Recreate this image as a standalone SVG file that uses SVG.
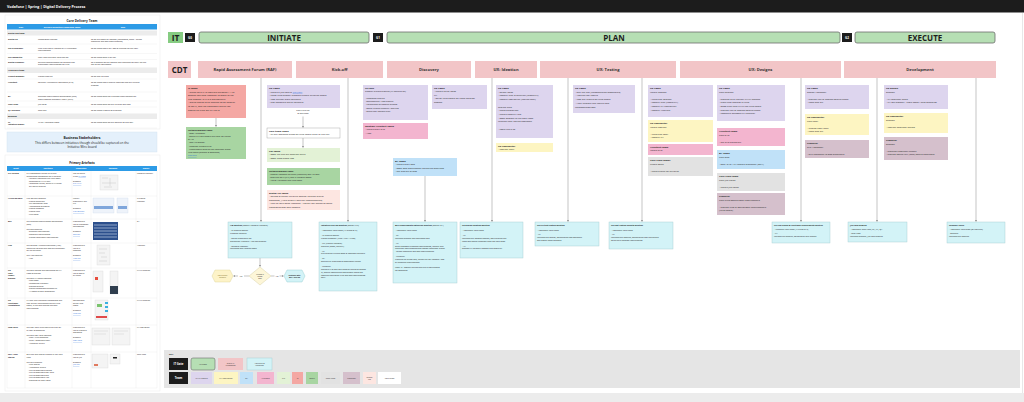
<svg xmlns="http://www.w3.org/2000/svg" width="1024" height="402" viewBox="0 0 1024 402">
<style>
text{font-family:"Open Sans","Liberation Sans",Arial,sans-serif;fill:#222}
.b{font-weight:700}
.tk{font-size:2.4px}
.mt{font-size:2px}
.tb{font-size:1.9px}
.th{font-size:2px;font-weight:700;fill:#fff;text-anchor:middle}
.ph{font-size:8px;font-weight:700;text-anchor:middle;fill:#1d1d1d}
.ms{font-size:4.1px;font-weight:700;text-anchor:middle;fill:#333}
.gt{font-size:2.8px;font-weight:700;fill:#fff;text-anchor:middle}
.kt{font-size:2px;text-anchor:middle;fill:#333}
.lk{fill:#2a6fdb;text-decoration:underline}
.lav{fill:#ddd5ee}.sal{fill:#f4a7a3}.grn{fill:#a8d5a2}.lg{fill:#e3f2d6}.dpo{fill:#fde6e1}
.arc{fill:#f3b5cf}.ba{fill:#c0e1f8}.yel{fill:#fdf5c2}.tl{fill:#e2e2e2}.pro{fill:#d5c0cc}
.mtg{fill:#d3f3f7;stroke:#9fc9cc;stroke-width:0.4}
.mil{fill:#f2c5c7}
.phs{fill:#b6dfb4;stroke:#6d6d6d;stroke-width:0.8}
.gate{fill:#1c1c1c}
.ln{stroke:#8a8a8a;stroke-width:0.5;fill:none}
.rl{stroke:#e3e3e3;stroke-width:0.3}
.thumb{fill:#f4f4f4;stroke:#cfcfcf;stroke-width:0.3}
</style>
<defs>
<marker id="ah" viewBox="0 0 6 6" refX="5.5" refY="3" markerWidth="4" markerHeight="4" orient="auto"><path d="M0,0 L6,3 L0,6 z" fill="#777"/></marker>
</defs>
<rect width="1024" height="402" fill="#ffffff"/>
<rect x="0" y="393" width="1024" height="9" fill="#ececec"/>
<line x1="1022.5" y1="13" x2="1022.5" y2="393" stroke="#d8d8d8" stroke-width="0.6"/>
<g id="header"><rect x="0" y="0" width="1024" height="12.5" fill="#1c1c1c"/><text x="7" y="8.4" style="font-size:3.6px;font-weight:700;fill:#fff">Vodafone | Spring | Digital Delivery Process</text></g>

<!-- LEFT PANEL: Core Delivery Team -->
<g id="core-delivery-team">
<rect x="5" y="15" width="155" height="114" fill="#fff" stroke="#e6e6e6" stroke-width="0.4"/>
<text x="82" y="22" class="b" style="font-size:3.2px;text-anchor:middle">Core Delivery Team</text>
<rect x="7" y="24" width="150" height="5.5" fill="#2d9be6"/>
<text x="21" y="27.5" class="th">Role</text><text x="62" y="27.5" class="th">Delivery Definition Leadership Tasks</text><text x="123" y="27.5" class="th">Why</text>
<rect x="7" y="30.5" width="150" height="5" fill="#ececec"/><text x="8" y="34" class="mt b">Digital Pod team</text>
<rect x="7" y="67.5" width="150" height="5.5" fill="#ececec"/><text x="8" y="71.3" class="mt b">IT Delivery team</text>
<rect x="7" y="113.5" width="150" height="5.5" fill="#ececec"/><text x="8" y="117.3" class="mt b">Business</text>
<g class="rl"><line x1="7" y1="44" x2="157" y2="44"/><line x1="7" y1="53.5" x2="157" y2="53.5"/><line x1="7" y1="59.5" x2="157" y2="59.5"/><line x1="7" y1="79" x2="157" y2="79"/><line x1="7" y1="92" x2="157" y2="92"/><line x1="7" y1="101" x2="157" y2="101"/><line x1="7" y1="107" x2="157" y2="107"/><line x1="7" y1="128" x2="157" y2="128"/></g>
<text class="mt"><tspan x="8" y="39.5" class="b">Digital PO</tspan><tspan x="8" y="48.5" class="b">UX/UI Designer</tspan><tspan x="8" y="57.5" class="b">UX Copywriter</tspan><tspan x="8" y="62.5" class="b">Digital Producer</tspan><tspan x="8" y="77" class="b">Project Manager</tspan><tspan x="8" y="83" class="b">Architect</tspan><tspan x="8" y="97" class="b">BA</tspan><tspan x="8" y="105" class="b">Tech Lead</tspan><tspan x="8" y="110.5" class="b">QA Engineer</tspan><tspan x="8" y="122.5" class="b">VF</tspan><tspan x="8" y="125" class="b">Initiative Owner</tspan></text>
<text class="mt"><tspan x="38" y="39.5">Commission request</tspan><tspan x="38" y="48.5">Final high fidelity designs of UX functional</tspan><tspan x="38" y="51">requirements</tspan><tspan x="38" y="57.5">Copy deck and final legal sign off</tspan><tspan x="38" y="62.5">Building configurations for solution and</tspan><tspan x="38" y="65">production requirements for CMS</tspan><tspan x="38" y="77">Project timeline</tspan><tspan x="38" y="83">Solution Architecture Document (SAD)</tspan><tspan x="38" y="97">Business Requirement Specification (BRS)</tspan><tspan x="38" y="99.5">Requirements Traceable Matrix (RTM)</tspan><tspan x="38" y="105">Jira cards</tspan><tspan x="38" y="110.5">Test Plan</tspan><tspan x="38" y="122.5">MARS / Business Cases</tspan></text>
<text class="mt"><tspan x="91" y="39.5">So we are aware of impacts (investment, tasks – Bridge</tspan><tspan x="91" y="42">Reporting and Ops Requirements)</tspan><tspan x="91" y="48.5">So we know how it will look &amp; function for the user</tspan><tspan x="91" y="57.5">So we know what it will say</tspan><tspan x="91" y="62.5">So it appears on the website and functions correctly for the</tspan><tspan x="91" y="65">day to day operations</tspan><tspan x="91" y="77">So we stay on track</tspan><tspan x="91" y="83">So we know how it should integrate into our current</tspan><tspan x="91" y="85.5">systems</tspan><tspan x="91" y="97">So we know what the business requirements are</tspan><tspan x="91" y="105">So we know what we are building and how</tspan><tspan x="91" y="110.5">So we know it works as expected</tspan><tspan x="91" y="122.5">So we know what we are working on and why</tspan></text>
</g>

<g id="business-stakeholders">
<rect x="7" y="132" width="150" height="20" fill="#e4f0fb" stroke="#cfe0f0" stroke-width="0.4"/>
<text x="82" y="138.5" class="b" style="font-size:3.3px;text-anchor:middle">Business Stakeholders</text>
<text x="82" y="143.6" style="font-size:3.1px;text-anchor:middle">This differs between initiatives though should be captured on the</text>
<text x="82" y="148.3" style="font-size:3.1px;text-anchor:middle">Initiative Miro board</text>
</g>

<!-- Primary Artefacts -->
<g id="primary-artefacts">
<rect x="5" y="155" width="155" height="236" fill="#fff" stroke="#e6e6e6" stroke-width="0.4"/>
<text x="82" y="163.5" class="b" style="font-size:2.9px;text-anchor:middle">Primary Artefacts</text>
<rect x="7" y="166" width="150" height="5" fill="#2d9be6"/>
<text x="16" y="169.2" class="th">What</text><text x="48" y="169.2" class="th">Contains</text><text x="81" y="169.2" class="th">Templates</text><text x="113" y="169.2" class="th">Example</text><text x="146" y="169.2" class="th">Owner</text>
<g class="rl"><line x1="7" y1="196" x2="157" y2="196"/><line x1="7" y1="219" x2="157" y2="219"/><line x1="7" y1="243" x2="157" y2="243"/><line x1="7" y1="268" x2="157" y2="268"/><line x1="7" y1="298" x2="157" y2="298"/><line x1="7" y1="325" x2="157" y2="325"/><line x1="7" y1="352" x2="157" y2="352"/><line x1="7" y1="388" x2="157" y2="388"/><line x1="25" y1="171" x2="25" y2="388"/><line x1="72" y1="171" x2="72" y2="388"/><line x1="91" y1="171" x2="91" y2="388"/><line x1="136" y1="171" x2="136" y2="388"/><line x1="7" y1="171" x2="7" y2="388"/><line x1="157" y1="171" x2="157" y2="388"/></g>
<text class="tb b"><tspan x="8" y="174">RAF Review</tspan><tspan x="8" y="199">IT Kick-off pack</tspan><tspan x="8" y="222">BRS</tspan><tspan x="8" y="246">HSD</tspan><tspan x="8" y="271">UX</tspan><tspan x="8" y="273.6">Page</tspan><tspan x="8" y="276.2">Flows /</tspan><tspan x="8" y="278.8">Designs</tspan><tspan x="8" y="301">UX</tspan><tspan x="8" y="303.6">Functional</tspan><tspan x="8" y="306.2">Annotations</tspan><tspan x="8" y="328">Copy Deck</tspan><tspan x="8" y="355">Epic / User</tspan><tspan x="8" y="357.6">Stories</tspan></text>
<text class="tb">
<tspan x="26.5" y="174">RAF assessment review is a Digital</tspan><tspan x="26.5" dy="2.6">engagement assessment for a initiative.</tspan><tspan x="28" dy="2.6">- Initiative requested high level effort</tspan><tspan x="29" dy="2.6">estimation or UX/UI only</tspan><tspan x="28" dy="2.6">- Innovation review, where RAF review</tspan><tspan x="29" dy="2.6">will not be enabled</tspan>
<tspan x="26.5" y="199">Kick-off pack contains:</tspan><tspan x="28" dy="2.6">- Project objectives</tspan><tspan x="28" dy="2.6">- Key stakeholder map</tspan><tspan x="28" dy="2.6">- Assumptions &amp; scoping</tspan><tspan x="28" dy="2.6">- Project roadmap</tspan><tspan x="28" dy="2.6">- Project risks</tspan><tspan x="28" dy="2.6">- Next steps</tspan>
<tspan x="26.5" y="222">The Business Requirements Specification</tspan><tspan x="26.5" dy="2.6">(BRS)</tspan><tspan x="26.5" dy="5.2">The BRS captures:</tspan><tspan x="28" dy="2.6">- Business requirements</tspan><tspan x="28" dy="2.6">- Reporting requirements</tspan><tspan x="28" dy="2.6">- System integration requirements</tspan>
<tspan x="26.5" y="246">The Solution Architect Document (HSD)</tspan><tspan x="26.5" dy="2.6">details the solution and how the technology</tspan><tspan x="26.5" dy="2.6">will be delivered.</tspan><tspan x="26.5" dy="5.2">The HSD captures:</tspan><tspan x="28" dy="2.6">- HSD</tspan>
<tspan x="26.5" y="271">The final designs and documents for UX</tspan><tspan x="26.5" dy="2.6">Flows &amp; Designs</tspan><tspan x="26.5" dy="5.2">The final UX design contains:</tspan><tspan x="28" dy="2.6">- Page flows</tspan><tspan x="28" dy="2.6">- Component inventory</tspan><tspan x="28" dy="2.6">- Designs/screens</tspan><tspan x="28" dy="2.6">- Design annotations/accessibility</tspan><tspan x="28" dy="2.6">- All states of each component</tspan>
<tspan x="26.5" y="301">UX high level functional annotations and</tspan><tspan x="26.5" dy="2.6">user journey documented on the Miro</tspan><tspan x="26.5" dy="2.6">board, in line with designs and BRS</tspan><tspan x="26.5" dy="2.6">requirements</tspan>
<tspan x="26.5" y="328">The copy deck is the source of truth for</tspan><tspan x="26.5" dy="2.6">all copy &amp; messaging</tspan><tspan x="26.5" dy="5.2">The final copy deck contains:</tspan><tspan x="28" dy="2.6">- Page / CMS messages</tspan><tspan x="28" dy="2.6">- Legal / compliance copy</tspan><tspan x="28" dy="2.6">- Accessible alt text</tspan>
<tspan x="26.5" y="355">Epic and user stories created by the Tech</tspan><tspan x="26.5" dy="2.6">Lead</tspan><tspan x="26.5" dy="5.2">The epic contains:</tspan><tspan x="28" dy="2.6">- User Stories</tspan><tspan x="28" dy="2.6">- Acceptance criteria</tspan><tspan x="28" dy="2.6">- Link to associated designs</tspan><tspan x="28" dy="2.6">- Link to associated copy deck</tspan><tspan x="28" dy="2.6">- Link to associated BRS</tspan><tspan x="28" dy="2.6">- Link to associated HSD</tspan><tspan x="28" dy="2.6">- Definition of ready/done</tspan>
</text>
<text class="tb">
<tspan x="73" y="174">Can be found</tspan><tspan x="73" dy="2.6">in the </tspan><tspan class="lk">RAF tool</tspan><tspan x="73" dy="5.2">Example:</tspan><tspan x="73" dy="2.6" class="lk">RAF-XXXX</tspan>
<tspan x="73" y="199">Usually</tspan><tspan x="73" dy="2.6">provided by the</tspan><tspan x="73" dy="2.6">PM</tspan><tspan x="73" dy="5.2">Example:</tspan><tspan x="73" dy="2.6" class="lk">Kick-off pack</tspan>
<tspan x="73" y="222">Provided as a</tspan><tspan x="73" dy="2.6">link to a template</tspan><tspan x="73" dy="2.6">spreadsheet</tspan><tspan x="73" dy="5.2">Example:</tspan><tspan x="73" dy="2.6" class="lk">BRS link</tspan>
<tspan x="73" y="246">Provided as a</tspan><tspan x="73" dy="2.6">link to a</tspan><tspan x="73" dy="2.6">template</tspan><tspan x="73" dy="5.2">Example:</tspan><tspan x="73" dy="2.6" class="lk">HSD link</tspan>
<tspan x="73" y="271">Provided as a</tspan><tspan x="73" dy="2.6">link to Zeplin</tspan><tspan x="73" dy="2.6">or Figma</tspan>
<tspan x="73" y="301">Documented</tspan><tspan x="73" dy="2.6">on the Miro</tspan><tspan x="73" dy="2.6">board</tspan><tspan x="73" dy="5.2">Example:</tspan><tspan x="73" dy="2.6" class="lk">Miro link</tspan>
<tspan x="73" y="328">Provided as a</tspan><tspan x="73" dy="2.6">link to a shared</tspan><tspan x="73" dy="2.6">document</tspan><tspan x="73" dy="5.2">Example:</tspan><tspan x="73" dy="2.6" class="lk">Copy deck</tspan>
<tspan x="73" y="355">Provided as a</tspan><tspan x="73" dy="2.6">link to Jira</tspan><tspan x="73" dy="5.2">Example:</tspan><tspan x="73" dy="2.6" class="lk">Jira link</tspan>
</text>
<text class="tb"><tspan x="137" y="174">Portfolio Manager</tspan><tspan x="137" y="199">IT Project</tspan><tspan x="137" dy="2.6">Manager</tspan><tspan x="137" y="222">BA</tspan><tspan x="137" y="246">Architect</tspan><tspan x="137" y="271">UX/UI Designer</tspan><tspan x="137" y="301">UX/UI Designer</tspan><tspan x="137" y="328">UX Copywriter</tspan><tspan x="137" y="355">Tech Lead</tspan></text>
<!-- example thumbnails -->
<g>
<rect class="thumb" x="100" y="175" width="18" height="15"/><path d="M102,178h6M110,178v8M102,183h14M104,187h8" stroke="#aaa" stroke-width="0.3" fill="none"/>
<rect x="93" y="198" width="21" height="15" fill="#eef3fa" stroke="#c9d6e8" stroke-width="0.3"/><rect x="94" y="206" width="19" height="3" fill="#7fa6db"/><rect x="117" y="198" width="11" height="15" fill="#eef3fa" stroke="#c9d6e8" stroke-width="0.3"/><rect x="118" y="206" width="9" height="3" fill="#7fa6db"/>
<rect x="93" y="222" width="25" height="18" fill="#2c4f8c"/><path d="M94,225h23M94,228h23M94,231h23M94,234h23M94,237h23" stroke="#d7e2f3" stroke-width="0.6"/>
<rect class="thumb" x="97" y="245" width="13" height="20"/><path d="M99,249h8M99,253h6M101,257h6M99,261h8" stroke="#aaa" stroke-width="0.3"/>
<rect class="thumb" x="93" y="271" width="10" height="21"/><rect x="95" y="277" width="3" height="3" fill="#e74c3c"/><rect x="110" y="271" width="8" height="23" fill="#f4f4f4" stroke="#cfcfcf" stroke-width="0.3"/><rect x="110" y="286" width="8" height="8" fill="#2f3e4e"/>
<rect class="thumb" x="95" y="300" width="13" height="20"/><rect x="105" y="302" width="3" height="2" fill="#3ab0e0"/><rect x="105" y="306" width="3" height="2" fill="#3ab0e0"/><rect x="105" y="310" width="3" height="2" fill="#3ab0e0"/><rect x="96" y="316" width="11" height="2" fill="#e04b4b"/><rect x="97" y="304" width="5" height="3" fill="#7bc46e"/>
<rect class="thumb" x="92" y="328" width="18" height="17"/><rect class="thumb" x="112" y="328" width="18" height="17"/><path d="M94,331h14M94,334h12M114,331h14M114,334h10" stroke="#bbb" stroke-width="0.3"/>
<rect class="thumb" x="92" y="354" width="16" height="14"/><rect class="thumb" x="110" y="354" width="10" height="10"/><rect x="113" y="357" width="4" height="1.5" fill="#222"/><rect x="94" y="364" width="4" height="2" fill="#e07a5f"/>
</g>
</g>

<!-- Phase row -->
<g id="it-team"><rect x="168" y="32" width="15" height="11" fill="#86cc82"/><text x="175.5" y="40.5" class="ph" style="font-size:8.5px">IT</text></g>
<g id="gate-g0"><rect class="gate" x="185" y="33" width="10" height="9"/><text x="190" y="38.8" class="gt" style="font-size:3px">G0</text></g>
<g id="phase-initiate"><rect class="phs" x="199" y="32" width="170" height="11" rx="2"/><text x="284" y="40.6" class="ph">INITIATE</text></g>
<g id="gate-g1"><rect class="gate" x="373" y="33" width="10" height="9"/><text x="378" y="38.8" class="gt" style="font-size:3px">G1</text></g>
<g id="phase-plan"><rect class="phs" x="387" y="32" width="453" height="11" rx="2"/><text x="614" y="40.6" class="ph">PLAN</text></g>
<g id="gate-g2"><rect class="gate" x="842" y="33" width="10" height="9"/><text x="847" y="38.8" class="gt" style="font-size:3px">G2</text></g>
<g id="phase-execute"><rect class="phs" x="855" y="32" width="140" height="11" rx="2"/><text x="925" y="40.6" class="ph">EXECUTE</text></g>

<!-- Milestones -->
<g id="cdt-team"><rect class="mil" x="168" y="61" width="23" height="17"/><text x="179.5" y="72.5" class="ph">CDT</text></g>
<g id="ms-raf"><rect class="mil" x="198" y="61" width="94" height="17"/><text x="245" y="71" class="ms">Rapid Assessment Forum (RAF)</text></g>
<g id="ms-kickoff"><rect class="mil" x="296" y="61" width="87" height="17"/><text x="339.5" y="71" class="ms">Kick-off</text></g>
<g id="ms-discovery"><rect class="mil" x="387" y="61" width="84" height="17"/><text x="429" y="71" class="ms">Discovery</text></g>
<g id="ms-ideation"><rect class="mil" x="475" y="61" width="62" height="17"/><text x="506" y="71" class="ms">UX: Ideation</text></g>
<g id="ms-testing"><rect class="mil" x="540" y="61" width="136" height="17"/><text x="608" y="71" class="ms">UX: Testing</text></g>
<g id="ms-designs"><rect class="mil" x="680" y="61" width="161" height="17"/><text x="760.5" y="71" class="ms">UX: Designs</text></g>
<g id="ms-development"><rect class="mil" x="844" y="61" width="152" height="17"/><text x="920" y="71" class="ms">Development</text></g>

<!-- Connectors -->
<g id="connectors" class="ln">
<line x1="261" y1="78" x2="261" y2="221.5" marker-end="url(#ah)"/>
<line x1="348" y1="78" x2="348" y2="221.5" marker-end="url(#ah)"/>
<line x1="425" y1="176" x2="425" y2="221.5" marker-end="url(#ah)"/>
<line x1="492" y1="78" x2="492" y2="221.5" marker-end="url(#ah)"/>
<line x1="568" y1="78" x2="568" y2="221.5" marker-end="url(#ah)"/>
<line x1="642" y1="78" x2="642" y2="221.5" marker-end="url(#ah)"/>
<line x1="801" y1="78" x2="801" y2="221.5" marker-end="url(#ah)"/>
<line x1="877" y1="78" x2="877" y2="221.5" marker-end="url(#ah)"/>
<line x1="976" y1="78" x2="976" y2="221.5" marker-end="url(#ah)"/>
<line x1="216" y1="118" x2="216" y2="126.5" marker-end="url(#ah)"/>
<line x1="303" y1="116.5" x2="303" y2="127.5" marker-end="url(#ah)"/>
<line x1="303" y1="138" x2="303" y2="147.5" marker-end="url(#ah)"/>
<line x1="260" y1="258" x2="260" y2="266.5" marker-end="url(#ah)"/>
<line x1="249" y1="276" x2="233.5" y2="276" marker-end="url(#ah)"/>
<line x1="271" y1="276" x2="283.5" y2="276" marker-end="url(#ah)"/>
</g>
<text x="303" y="111" style="font-size:1.9px;text-anchor:middle">Share Miro link</text>
<text x="303" y="113.5" style="font-size:1.9px;text-anchor:middle">to core team</text>
<g><rect x="238" y="274.8" width="6" height="2.4" fill="#fff"/><text x="241" y="276.7" style="font-size:1.8px;text-anchor:middle">No</text><rect x="274.5" y="274.8" width="5" height="2.4" fill="#fff"/><text x="277" y="276.7" style="font-size:1.8px;text-anchor:middle">Yes</text></g>

<!-- RAF column -->
<g id="raf-is-tasks"><rect class="sal" x="186" y="85" width="60" height="33"/><text class="tk"><tspan x="188" y="89" class="b">IS Tasks</tspan><tspan x="188" dy="3.6">- Giving an RAF is required between 1-1 of</tspan><tspan x="188" dy="3.6">Engage Portfolio Manager to move to the</tspan><tspan x="188" dy="3.6">first session. RAF is a prerequisite.</tspan><tspan x="188" dy="3.6">- Digital needs to be marked as an enabler</tspan><tspan x="188" dy="3.6">to BRAF, and the Consumer Digital tab</tspan><tspan x="188" dy="3.6">should be filled out by the IS</tspan></text></g>
<g id="raf-portfolio-tasks"><rect class="grn" x="186" y="127" width="60" height="32"/><text class="mt"><tspan x="188" y="130.5" class="b">Portfolio Manager Tasks</tspan><tspan x="188" dy="3.2">- Book IAB session</tspan><tspan x="188" dy="3.2">- Ensure RAF and context are ready for review</tspan><tspan x="188" dy="3.2">at IAB</tspan><tspan x="188" dy="3.2">- Post IAB session:</tspan><tspan x="188" dy="3.2">- Complete initiative brief</tspan><tspan x="188" dy="3.2">- Create/assign cards on the Consumer Digital</tspan><tspan x="188" dy="3.2">Miro board (meeting &amp; attendees)</tspan><tspan x="188" dy="3.2" class="lk">Link here</tspan></text></g>
<g id="iab-meeting"><rect class="mtg" x="228" y="222" width="64" height="36"/><text class="mt"><tspan x="230" y="226" class="b">IAB Meeting</tspan><tspan> (Owner: Portfolio Manager)</tspan><tspan x="230" dy="5">- IS Initiative Owner</tspan><tspan x="230" dy="2.8">Presents initiative</tspan><tspan x="230" dy="5">- Digital Leadership rep</tspan><tspan x="230" dy="2.8">Decides on 'Proceed' / 'Do not proceed'</tspan><tspan x="230" dy="5">- Portfolio Manager</tspan><tspan x="230" dy="2.8">Facilitates and records notes</tspan></text></g>
<g id="decision"><polygon points="260,267 271,276 260,285 249,276" fill="#fdf6d8" stroke="#cfc79a" stroke-width="0.4"/><text style="font-size:1.7px;text-anchor:middle"><tspan x="260" y="274.5">Is there a</tspan><tspan x="260" dy="2.2">Digital</tspan><tspan x="260" dy="2.2">ask?</tspan></text></g>
<g id="outcome-no"><polygon points="215,270 230,270 233,276 230,282 215,282 212,276" fill="#fdf3c8" stroke="#d8cf90" stroke-width="0.4"/><text style="font-size:1.7px;text-anchor:middle;fill:#7a6a20"><tspan x="222.5" y="275.5">Not a Digital</tspan><tspan x="222.5" dy="2.2">initiative</tspan></text></g>
<g id="outcome-yes"><polygon points="287,270 302,270 305,276 302,282 287,282 284,276" fill="#d3f3f7" stroke="#8cc7cc" stroke-width="0.4"/><text class="b" style="font-size:1.7px;text-anchor:middle"><tspan x="294.5" y="275.5">Continue with</tspan><tspan x="294.5" dy="2.2">BRS / Kick-off</tspan></text></g>

<!-- Kick-off column -->
<g id="ko-ux-tasks"><rect class="lav" x="267" y="85" width="73" height="23"/><text class="tk"><tspan x="269" y="89" class="b">UX Tasks</tspan><tspan x="269" dy="3.6">- Create a Jira card in </tspan><tspan class="lk">Jira (link)</tspan><tspan x="269" dy="3.6">- Using Miro project template create initiative board</tspan><tspan x="269" dy="3.6">- Map current state journeys</tspan><tspan x="269" dy="3.6">- Flag impacted digital journeys</tspan></text></g>
<g id="ko-core-tasks"><rect x="267" y="128" width="73" height="10" fill="#fff" stroke="#9a9a9a" stroke-width="0.4"/><text class="tk"><tspan x="269" y="131.5" class="b">Core team Tasks</tspan><tspan x="269" dy="3.4">- Fill out assigned areas on Miro board prior to kick-off</tspan></text></g>
<g id="ko-pm-tasks"><rect class="lg" x="267" y="148" width="73" height="14"/><text class="tk"><tspan x="269" y="151.8" class="b">PM Tasks</tspan><tspan x="269" dy="3.5">- Book the kick-off meeting invite</tspan><tspan x="269" dy="3.5">- Book team stand ups</tspan></text></g>
<g id="ko-portfolio-tasks"><rect class="grn" x="267" y="168" width="73" height="17"/><text class="mt"><tspan x="269" y="171.5" class="b">Portfolio Manager Tasks</tspan><tspan x="269" dy="3.2">- Confirm Vodafone job ticket (reference) and IAB date</tspan><tspan x="269" dy="3.2">- Share the BRAF (RAF) with IS Initiative Owner</tspan><tspan x="269" dy="3.2">- Add to IAB tracker and Miro board</tspan></text></g>
<g id="ko-dpo-tasks"><rect class="dpo" x="267" y="190" width="73" height="20"/><text class="tk"><tspan x="269" y="193.8" class="b">Digital PO Tasks</tspan><tspan x="269" dy="3.5">- Review External initiative against internal Digital</tspan><tspan x="269" dy="3.5">Roadmap, (Align priority and any dependencies)</tspan><tspan x="269" dy="3.5">- Link up with Sales Manager + collect any potential Sales</tspan><tspan x="269" dy="3.5">Considerations and Impacts</tspan></text></g>
<g id="kickoff-meeting"><rect class="mtg" x="319" y="222" width="58" height="69"/><text class="mt"><tspan x="321" y="226" class="b">Initiative Kick-off Meeting</tspan><tspan> (Owner: PM)</tspan><tspan x="321" dy="5">- Attendees: Core Team (All Digital &amp; IT)</tspan><tspan x="321" dy="5">- IS Initiative Owner</tspan><tspan x="321" dy="2.8">Project summary (Who / Why / What)</tspan><tspan x="321" dy="5">- PM (Project Manager)</tspan><tspan x="321" dy="2.8">Timeline (dates, delivery)</tspan><tspan x="321" dy="5">- UX</tspan><tspan x="321" dy="2.8">Run through current state &amp; impacted journeys</tspan><tspan x="321" dy="5">- BA</tspan><tspan x="321" dy="2.8">Outline key problems &amp; stakeholder needs</tspan><tspan x="321" dy="5">- Producer</tspan><tspan x="321" dy="2.8">Review RAF &amp; BRS and confirm review to engage</tspan><tspan x="321" dy="2.8">IS, ensure content and operational needs are</tspan><tspan x="321" dy="2.8">captured to provide CMS and ops requirements</tspan><tspan x="321" dy="2.8">early</tspan></text></g>

<!-- Discovery column -->
<g id="disc-ux-tasks"><rect class="lav" x="363" y="85" width="65" height="35"/><text class="mt"><tspan x="365" y="88.8" class="b">UX Tasks</tspan><tspan x="365" dy="3.3">Discover: Explore problem (UX activities etc)</tspan><tspan x="365" dy="6.6">- Competitor analysis</tspan><tspan x="365" dy="3.3">- Benchmarking / best practice</tspan><tspan x="365" dy="3.3">- Walkthrough of research artifacts</tspan><tspan x="365" dy="3.3">- Gather existing research / analytics</tspan><tspan x="365" dy="3.3">- Define user research plan</tspan></text></g>
<g id="disc-architect-tasks"><rect class="arc" x="363" y="123" width="65" height="16"/><text class="tk"><tspan x="365" y="126.8" class="b">Solution Architect Tasks</tspan><tspan x="365" dy="3.4">- Create draft SAD</tspan><tspan x="365" dy="3.4">- HSD</tspan></text></g>
<g id="disc-ba-tasks"><rect class="ba" x="393" y="158" width="64" height="18"/><text class="tk"><tspan x="395" y="161.8" class="b">BA Tasks</tspan><tspan x="395" dy="3.4">- Create draft BRS</tspan><tspan x="395" dy="3.4">- Book BRS requirement gathering meetings</tspan><tspan x="395" dy="3.4">- Get sign off of BRS</tspan></text></g>
<g id="brs-meeting"><rect class="mtg" x="393" y="222" width="64" height="61"/><text class="mt"><tspan x="395" y="226" class="b">BRS requirements gathering meeting</tspan><tspan> (Owner: BA)</tspan><tspan x="395" dy="5">- Attendees: Core Team</tspan><tspan x="395" dy="5">- BA</tspan><tspan x="395" dy="2.8">Facilitate meeting and document BRS</tspan><tspan x="395" dy="5">- UX</tspan><tspan x="395" dy="2.8">Bring proposed business requirements, identify and</tspan><tspan x="395" dy="2.8">challenge requirements that impact Consumer Digital</tspan><tspan x="395" dy="2.8">- Bridge Reporting and Ops Requirements</tspan><tspan x="395" dy="5">- Producer</tspan><tspan x="395" dy="2.8">Producer to review BRS, identifying any content / ops</tspan><tspan x="395" dy="2.8">or reporting requirements</tspan><tspan x="395" dy="5">Note: IS - doesn't include BRS but a requirement</tspan><tspan x="395" dy="2.8">for attendees</tspan></text></g>

<!-- UX Ideation -->
<g id="idea-ux-tasks"><rect class="lav" x="432" y="85" width="55" height="24"/><text class="tk"><tspan x="434" y="88.8" class="b">UX Tasks</tspan><tspan x="434" dy="3.5">- Create initial ideas</tspan><tspan x="434" dy="3.5">UX</tspan><tspan x="434" dy="3.5">- Setup Miro board for team ideation</tspan><tspan x="434" dy="3.5">session</tspan></text></g>
<g id="ideation-meeting"><rect class="mtg" x="460" y="222" width="63" height="36"/><text class="mt"><tspan x="462" y="226" class="b">UX Design Ideation Meeting</tspan><tspan x="462" dy="5">- Attendees: Core Team</tspan><tspan x="462" dy="5">- UX</tspan><tspan x="462" dy="2.8">Facilitate the ideation session, walk through the</tspan><tspan x="462" dy="2.8">ideas and gather feedback from the core team</tspan><tspan x="462" dy="5">- All</tspan><tspan x="462" dy="2.8">Support UX through ideation and feasibility</tspan></text></g>

<!-- UX Testing -->
<g id="test-ux-tasks"><rect class="lav" x="496" y="85" width="57" height="53"/><text class="tk"><tspan x="498" y="89" class="b">UX Tasks</tspan><tspan x="498" dy="3.7">- Refine ideas</tspan><tspan x="498" dy="3.7">- Consult tech &amp; architect (feasibility)</tspan><tspan x="498" dy="3.7">- Consult copywriter (testing copy)</tspan><tspan x="498" dy="7.4">Testing Prep</tspan><tspan x="498" dy="3.7">- Create prototype</tspan><tspan x="498" dy="3.7">- Create usability test</tspan><tspan x="498" dy="3.7">- Book session to run core team</tspan><tspan x="498" dy="3.7">through user testing approach</tspan><tspan x="498" dy="7.4">- Login Maze.co</tspan></text></g>
<g id="test-copy-tasks"><rect class="yel" x="496" y="143" width="57" height="9"/><text class="tk"><tspan x="498" y="146.6" class="b">UX Copywriter</tspan><tspan x="498" dy="3.3">- Content draft</tspan></text></g>
<g id="pretest-meeting"><rect class="mtg" x="535" y="222" width="64" height="24"/><text class="mt"><tspan x="537" y="226" class="b">UX Pre-test Testing Meeting</tspan><tspan x="537" dy="4.5">- Attendees: Core Team</tspan><tspan x="537" dy="4.5">- UX</tspan><tspan x="537" dy="2.8">Facilitate the testing, walkthrough test approach</tspan><tspan x="537" dy="2.8">and gather team feedback</tspan></text></g>
<g id="test2-ux-tasks"><rect class="lav" x="573" y="85" width="62" height="28"/><text class="tk"><tspan x="575" y="89" class="b">UX Tasks</tspan><tspan x="575" dy="3.7">- Run the test (unmoderated/moderated)</tspan><tspan x="575" dy="3.7">- Analyse test results</tspan><tspan x="575" dy="3.7">- Map out results on Miro board</tspan><tspan x="575" dy="3.7">- Walk through test results and</tspan><tspan x="575" dy="3.7">recommendations</tspan></text></g>
<g id="posttest-meeting"><rect class="mtg" x="609" y="222" width="64" height="27"/><text class="mt"><tspan x="611" y="226" class="b">UX Post Testing Results Meeting</tspan><tspan x="611" dy="4.5">- Attendees: Core Team</tspan><tspan x="611" dy="4.5">- UX</tspan><tspan x="611" dy="2.8">Facilitate the meeting, walkthrough test results and</tspan><tspan x="611" dy="2.8">agree next iteration requirements</tspan></text></g>

<!-- UX Designs: iterate -->
<g id="des-ux-tasks"><rect class="lav" x="648" y="85" width="65" height="32"/><text class="tk"><tspan x="650" y="89" class="b">UX Tasks</tspan><tspan x="650" dy="3.6">Iterate designs</tspan><tspan x="650" dy="7.2">- Iterate on designs</tspan><tspan x="650" dy="3.6">- Consult tech (feasibility)</tspan><tspan x="650" dy="3.6">- Consult UX Copywriter</tspan><tspan x="650" dy="3.6">- Consult Architect</tspan></text></g>
<g id="des-copy-tasks"><rect class="yel" x="648" y="120" width="65" height="22"/><text class="tk"><tspan x="650" y="124" class="b">UX Copywriter</tspan><tspan x="650" dy="3.6">Iterate content</tspan><tspan x="650" dy="7.2">- Iterate on copy</tspan><tspan x="650" dy="3.6">- Consult UX</tspan></text></g>
<g id="des-arch-tasks"><rect class="arc" x="648" y="144" width="65" height="11"/><text class="tk"><tspan x="650" y="147.8" class="b">Architect Tasks</tspan><tspan x="650" dy="3.5">Iterate SAD</tspan></text></g>
<g id="des-tl-tasks"><rect class="tl" x="648" y="157" width="65" height="19"/><text class="tk"><tspan x="650" y="161" class="b">Tech Lead Tasks?</tspan><tspan x="650" dy="3.6">Create Epics</tspan><tspan x="650" dy="7.2">- Create epics for initiative</tspan></text></g>

<!-- UX Designs: final -->
<g id="fin-ux-tasks"><rect class="lav" x="717" y="85" width="68" height="36"/><text class="tk"><tspan x="719" y="89" class="b">UX Tasks</tspan><tspan x="719" dy="3.6">Final designs</tspan><tspan x="719" dy="7.2">- Produce pixel perfect UX/UI designs</tspan><tspan x="719" dy="3.6">- Place final designs in Miro</tspan><tspan x="719" dy="3.6">- Show high level UX/UI on Miro board</tspan><tspan x="719" dy="3.6">- Provide link to designs Zeplin/Figma</tspan><tspan x="719" dy="3.6">- Complete accessibility checklist</tspan></text></g>
<g id="fin-arch-tasks"><rect class="arc" x="717" y="128" width="68" height="18"/><text class="tk"><tspan x="719" y="132" class="b">Architect Tasks</tspan><tspan x="719" dy="3.6">Final SAD</tspan><tspan x="719" dy="7.2">- Get SAD signed off</tspan></text></g>
<g id="fin-ba-tasks"><rect class="ba" x="717" y="150" width="68" height="19"/><text class="tk"><tspan x="719" y="154" class="b">BA Tasks</tspan><tspan x="719" dy="3.6">Final BRS</tspan><tspan x="719" dy="7.2">- BRS / SAD / UX Design alignment (BTW)</tspan></text></g>
<g id="fin-tl-tasks"><rect class="tl" x="717" y="173" width="68" height="18"/><text class="tk"><tspan x="719" y="177" class="b">Tech Lead Tasks</tspan><tspan x="719" dy="3.6">Final Jira Cards</tspan><tspan x="719" dy="7.2">- Create Jira cards</tspan></text></g>
<g id="fin-producer-tasks"><rect class="pro" x="717" y="193" width="68" height="22"/><text class="tk"><tspan x="719" y="197" class="b">Producer</tspan><tspan x="719" dy="3.6">Final CMS/Operational requirements</tspan><tspan x="719" dy="7.2">- Provide CMS &amp; operational requirements</tspan><tspan x="719" dy="3.6">(Miro board)</tspan></text></g>
<g id="final-design-meeting"><rect class="mtg" x="772" y="222" width="58" height="21"/><text class="tb"><tspan x="774" y="225.8" class="b">UX Final Design &amp; Functional requirements meeting</tspan><tspan x="774" dy="4.2">- Attendees: Core Team (All Digital &amp; IT)</tspan><tspan x="774" dy="4.2">- UX</tspan><tspan x="774" dy="2.7">Facilitate the meeting, walkthrough final designs</tspan></text></g>

<!-- Development: handover -->
<g id="hand-ux-tasks"><rect class="lav" x="805" y="85" width="64" height="24"/><text class="tk"><tspan x="807" y="89" class="b">UX Tasks</tspan><tspan x="807" dy="3.6">Design Handover</tspan><tspan x="807" dy="7.2">- Provide link to designs Zeplin/Figma</tspan><tspan x="807" dy="3.6">- Legal sign off</tspan></text></g>
<g id="hand-copy-tasks"><rect class="yel" x="805" y="114" width="64" height="21"/><text class="tk"><tspan x="807" y="118" class="b">UX Copywriter</tspan><tspan x="807" dy="3.6">Final copy</tspan><tspan x="807" dy="7.2">- Finalise copy deck</tspan><tspan x="807" dy="3.6">- Legal sign off</tspan></text></g>
<g id="hand-producer-tasks"><rect class="pro" x="805" y="140" width="64" height="18"/><text class="tk"><tspan x="807" y="144" class="b">Producer</tspan><tspan x="807" dy="3.6">DXP Handover</tspan><tspan x="807" dy="7.2">- DXP handover to Ops producers</tspan></text></g>
<g id="jira-meeting"><rect class="mtg" x="848" y="222" width="59" height="20"/><text class="mt"><tspan x="850" y="225.8" class="b">Jira card shaping</tspan><tspan x="850" dy="4.2">- Attendees: Tech Lead, BA, UX, QA</tspan><tspan x="850" dy="4.2">- Tech Lead</tspan><tspan x="850" dy="2.7">Facilitate meeting, Jira card shaping</tspan></text></g>

<!-- Development: support -->
<g id="sup-ux-tasks"><rect class="lav" x="884" y="85" width="64" height="24"/><text class="tk"><tspan x="886" y="89" class="b">UX Design</tspan><tspan x="886" dy="3.6">Support</tspan><tspan x="886" dy="7.2">- UX shoulder check</tspan><tspan x="886" dy="3.6">- UX dev support - edge cases / new scenarios</tspan></text></g>
<g id="sup-copy-tasks"><rect class="yel" x="884" y="113" width="64" height="20"/><text class="tk"><tspan x="886" y="117" class="b">UX Copywriter</tspan><tspan x="886" dy="3.6">Support</tspan><tspan x="886" dy="7.2">- Content shoulder checks</tspan></text></g>
<g id="sup-producer-tasks"><rect class="pro" x="884" y="137" width="64" height="23"/><text class="tk"><tspan x="886" y="141" class="b">Producer</tspan><tspan x="886" dy="3.6">Support</tspan><tspan x="886" dy="7.2">- Producer shoulder checks</tspan><tspan x="886" dy="3.6">- Provide config text (data) where applicable</tspan></text></g>
<g id="shoulder-meeting"><rect class="mtg" x="947" y="222" width="58" height="21"/><text class="mt"><tspan x="949" y="225.8" class="b">Shoulder check</tspan><tspan x="949" dy="4.2">- Attendees: Core team (as required)</tspan><tspan x="949" dy="4.2">- Engineer</tspan><tspan x="949" dy="2.7">Facilitate the meeting</tspan></text></g>

<!-- KEY -->
<g id="key">
<rect x="164" y="350" width="856" height="38" fill="#e5e5e5"/>
<text x="169" y="354.5" class="b" style="font-size:2.4px">KEY</text>
<rect class="gate" x="169" y="358" width="19" height="12"/><text x="178.5" y="365" class="gt">IT Gate</text>
<rect class="phs" x="191" y="358" width="24" height="12" rx="2" style="stroke-width:0.6"/><text x="203" y="364.8" class="kt">IT Phase</text>
<rect class="mil" x="218" y="358" width="25" height="12"/><text class="kt"><tspan x="230.5" y="363.6">DIGITAL</tspan><tspan x="230.5" dy="2.5">Milestones</tspan></text>
<rect class="mtg" x="247" y="358" width="25" height="12"/><text class="kt"><tspan x="259.5" y="363.6">Activities &amp;</tspan><tspan x="259.5" dy="2.5">Meetings</tspan></text>
<rect class="gate" x="169" y="372" width="19" height="12"/><text x="178.5" y="379" class="gt">Team</text>
<rect class="lav" x="191" y="372" width="21" height="12"/><text x="201.5" y="378.7" class="kt">UX/UI Design</text>
<rect class="yel" x="214" y="372" width="24" height="12"/><text x="226" y="378.7" class="kt">UX Copywriter</text>
<rect class="ba" x="240" y="372" width="13" height="12"/><text x="246.5" y="378.7" class="kt">BA</text>
<rect class="arc" x="257" y="372" width="17" height="12"/><text x="265.5" y="378.7" class="kt">Architect</text>
<rect class="lg" x="277" y="372" width="13" height="12"/><text x="283.5" y="378.7" class="kt">PM</text>
<rect class="sal" x="292" y="372" width="11" height="12"/><text x="297.5" y="378.7" class="kt">IS</text>
<rect class="grn" x="306" y="372" width="12" height="12"/><text x="312" y="378.7" class="kt">PortM</text>
<rect class="tl" x="321" y="372" width="19" height="12"/><text x="330.5" y="378.7" class="kt">Tech Lead</text>
<rect class="pro" x="343" y="372" width="17" height="12"/><text x="351.5" y="378.7" class="kt">Producer</text>
<rect class="dpo" x="363" y="372" width="13" height="12"/><text class="kt"><tspan x="369.5" y="377.5">Digital</tspan><tspan x="369.5" dy="2.4">PO</tspan></text>
<rect x="378" y="372" width="23" height="12" fill="#fff"/><text x="389.5" y="378.7" class="kt">Core team</text>
</g>
</svg>
